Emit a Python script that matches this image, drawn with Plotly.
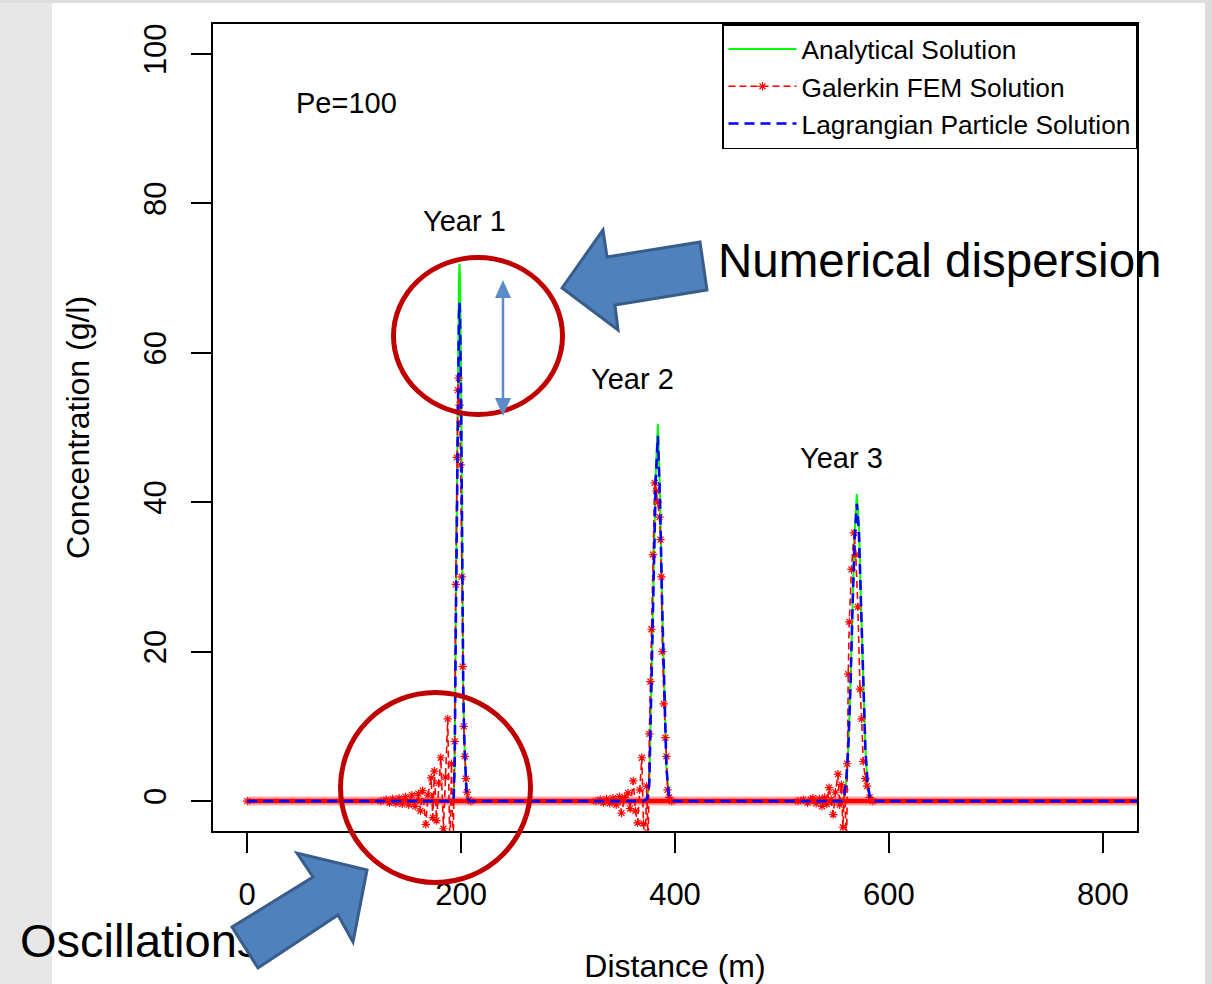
import plotly.graph_objects as go

# ---------------- data ----------------
# Analytical solution (green)
ana_x = [0, 192, 193, 194, 195, 196, 197, 198, 198.5, 199, 200, 201, 202, 203, 204, 205, 206, 208,
         370, 374, 376, 378, 380, 382, 384, 386, 388, 390, 392, 394, 396, 400,
         556, 558, 560, 562, 564, 566, 568, 570, 572, 574, 576, 578, 580, 582, 584, 588, 1000]
ana_y = [0, 0, 0.3, 5, 24, 42, 58, 70, 71.9, 70, 56, 28, 15, 8, 3.5, 1.2, 0.3, 0,
         0, 0.3, 2.5, 18, 30, 44, 50.5, 41, 26, 13, 4.5, 1, 0.1, 0,
         0, 0.5, 2.5, 7, 15, 26, 36, 41.1, 37, 26, 15, 7, 2.5, 0.7, 0.1, 0, 0]

# Galerkin FEM solution (red)
fem_x = [0, 125, 130, 133, 136, 139, 142, 145, 148, 151, 154, 157, 160, 162, 164, 167, 169, 172,
         173.5, 175, 177, 179, 181, 183.5, 185.5, 187.5, 189.5, 191, 192.5,
         194, 195, 196, 197, 197.7, 198.5, 199.5, 200.5, 201.5, 202.5, 203.5, 204.5, 205.5, 207, 209,
         326, 330, 333, 336, 339, 342, 345, 348, 350, 353, 356, 358, 361, 363, 365, 367, 369,
         370.5, 372, 373.5, 375,
         376, 377, 378, 379.4, 381, 382.5, 384, 385.5, 386.5, 387.3, 388.2, 389.5, 391, 392, 393, 394.5, 397,
         515, 520, 524, 527, 529, 532, 535, 537.5, 540, 542, 544, 546, 548, 550, 552.4, 554, 555.5,
         557, 558.5, 560.5,
         561, 562, 563, 565, 567.4, 569, 571, 573, 574.6, 576, 578, 579.6, 582, 585, 1000]
fem_y = [0, 0, 0.2, -0.2, 0.3, -0.3, 0.4, -0.4, 0.6, -0.5, 0.8, -0.7, 1.0, -1.3, 1.4, -3.1, 0.8, 3.1,
         -2.2, 4.0, -2.6, 2.4, 5.8, -3.7, 3.2, 11.0, -6.5, 5, -7,
         8, 29, 46, 55, 56.6, 53, 45, 30, 18, 10, 6, 3, 1.2, 0.2, 0,
         0, 0.2, -0.2, 0.3, -0.3, 0.4, -0.5, 0.6, -1.6, 0.5, 1.1, -1.0, 2.7, -1.3, -2.9, 1.5, 5.8,
         -3.0, -6, 2, -6,
         9, 16, 23, 33, 42.6, 41.5, 40, 38, 35, 30, 20, 13, 8.5, 6, 1.5, 0.5, 0,
         0, 0.2, -0.2, 0.2, 0.4, -0.3, 0.3, -0.7, 0.5, -0.4, 1.8, 0.2, -1.8, 1.2, 3.6, -0.5, 2.2,
         -3.5, 1.5, -6,
         5, 17, 24, 31, 35.9, 33, 26, 15, 11, 5.3, 3, 2, 0.5, 0, 0]

# Lagrangian particle solution (blue)
lag_x = [0, 192, 193, 194, 195, 196, 197, 198, 198.5, 199, 200, 201, 202, 203, 204, 205, 206, 208,
         370, 374, 376, 378, 380, 382, 384, 386, 388, 390, 392, 394, 396, 400,
         556, 558, 560, 562, 564, 566, 568, 570, 572, 574, 576, 578, 580, 582, 584, 588, 1000]
lag_y = [0, 0, 0.3, 5, 23, 40, 55, 65, 66.7, 65, 53, 28, 15, 8, 3.5, 1.2, 0.3, 0,
         0, 0.3, 2.5, 17, 30, 43, 48.9, 40, 26, 13, 4.5, 1, 0.1, 0,
         0, 0.5, 2.5, 7, 15, 26, 35, 39.8, 36, 26, 15, 7, 2.5, 0.7, 0.1, 0, 0]

# zero line of the FEM nodes (dense stars make it a thick band)
base_x = [0, 1000]
base_y = [0, 0]

x_ticks = [0, 200, 400, 600, 800]
y_ticks = [0, 20, 40, 60, 80, 100]

year_labels = ["Year 1", "Year 2", "Year 3"]
year_x = [203, 360.5, 556]
year_y = [77.6, 56.5, 45.9]

FONT = "Liberation Sans, Arial, sans-serif"

# ---------------- layout helpers (pixel -> paper) ----------------
L, R, T, B = 213, 75, 24, 153
W, H = 1212, 984
PW, PH = W - L - R, H - T - B
XR = [-32, 832]
YR = [-4, 104]


def px(x):
    return (x - L) / PW


def py(y):
    return (H - B - y) / PH


def path(pts):
    return "M " + " L ".join(f"{px(a):.5f},{py(b):.5f}" for a, b in pts) + " Z"


fig = go.Figure()

fig.add_trace(go.Scatter(x=ana_x, y=ana_y, mode="lines", name="Analytical Solution",
                         line=dict(color="#00FF00", width=2)))
fig.add_trace(go.Scatter(x=base_x, y=base_y, mode="lines", showlegend=False, hoverinfo="skip",
                         line=dict(color="rgba(255,0,0,0.35)", width=9)))
fig.add_trace(go.Scatter(x=base_x, y=base_y, mode="lines", showlegend=False, hoverinfo="skip",
                         line=dict(color="#FF0000", width=4.5)))
fig.add_trace(go.Scatter(x=fem_x, y=fem_y, mode="lines+markers", name="Galerkin FEM Solution",
                         line=dict(color="#FF0000", width=1.6, dash="7px,4px"),
                         marker=dict(symbol="asterisk-open", size=7, color="#FF0000",
                                     line=dict(color="#FF0000", width=1.2))))
fig.add_trace(go.Scatter(x=lag_x, y=lag_y, mode="lines", name="Lagrangian Particle Solution",
                         line=dict(color="#0000FF", width=2.6, dash="10px,6px")))

annotations = []
for t, xx, yy in zip(year_labels, year_x, year_y):
    annotations.append(dict(x=xx, y=yy, xref="x", yref="y", text=t, showarrow=False,
                            font=dict(size=29, color="black", family=FONT)))
annotations.append(dict(x=92.7, y=93.4, xref="x", yref="y", text="Pe=100", showarrow=False,
                        font=dict(size=29, color="black", family=FONT)))
annotations.append(dict(x=px(716), y=py(260), xref="paper", yref="paper", xanchor="left",
                        yanchor="middle", text="Numerical dispersion", showarrow=False,
                        font=dict(size=47.5, color="black", family=FONT)))

shapes = [
    # slide background strips
    dict(type="rect", xref="paper", yref="paper", x0=px(0), x1=px(52), y0=py(984), y1=py(0),
         fillcolor="#e7e7e7", line=dict(width=0), layer="below"),
    dict(type="rect", xref="paper", yref="paper", x0=px(1205), x1=px(1212), y0=py(984), y1=py(0),
         fillcolor="#dcdcdc", line=dict(width=0), layer="below"),
    dict(type="rect", xref="paper", yref="paper", x0=px(0), x1=px(1212), y0=py(3), y1=py(0),
         fillcolor="#dddddd", line=dict(width=0), layer="below"),
    # slide text that sits underneath the block arrow (shape label, so the arrow can cover it)
    dict(type="rect", xref="paper", yref="paper", x0=px(17), x1=px(330), y0=py(963), y1=py(909),
         line=dict(width=0), fillcolor="rgba(0,0,0,0)", layer="above",
         label=dict(text="Oscillations", textposition="middle left", padding=0,
                    font=dict(size=47, color="black", family=FONT))),
    # red circles
    dict(type="circle", xref="paper", yref="paper", x0=px(393.5), x1=px(562.5), y0=py(414.5), y1=py(257.5),
         line=dict(color="#C00000", width=5), layer="above"),
    dict(type="circle", xref="paper", yref="paper", x0=px(340.5), x1=px(530.5), y0=py(882.5), y1=py(692.5),
         line=dict(color="#C00000", width=5), layer="above"),
    # double-headed arrow
    dict(type="line", xref="paper", yref="paper", x0=px(503), x1=px(503), y0=py(292), y1=py(404),
         line=dict(color="#5B8BC8", width=2.5), layer="above"),
    dict(type="path", xref="paper", yref="paper", path=path([(503, 280), (495, 298), (511, 298)]),
         fillcolor="#5B8BC8", line=dict(width=0), layer="above"),
    dict(type="path", xref="paper", yref="paper", path=path([(503, 416), (495, 398), (511, 398)]),
         fillcolor="#5B8BC8", line=dict(width=0), layer="above"),
    # block arrows
    dict(type="path", xref="paper", yref="paper",
         path=path([(562, 288), (603, 230), (607, 257), (700, 242), (707, 290), (615, 305), (618, 330)]),
         fillcolor="#4F81BD", line=dict(color="#385D8A", width=3), layer="above"),
    dict(type="path", xref="paper", yref="paper",
         path=path([(367, 870), (297, 853), (313, 877), (232, 927), (258, 968), (338, 915), (353, 942)]),
         fillcolor="#4F81BD", line=dict(color="#385D8A", width=3), layer="above"),
]

axis_common = dict(showline=True, linecolor="black", linewidth=2, mirror=True,
                   ticks="outside", ticklen=20, tickwidth=1.5, tickcolor="black",
                   showgrid=False, zeroline=False, automargin=False,
                   tickfont=dict(size=31, color="black", family=FONT))

fig.update_layout(
    width=W, height=H,
    margin=dict(l=L, r=R, t=T, b=B, pad=0, autoexpand=False),
    paper_bgcolor="white", plot_bgcolor="white",
    font=dict(family=FONT, color="black"),
    xaxis=dict(range=XR, tickvals=x_ticks, ticklabelstandoff=15,
               title=dict(text="Distance (m)", font=dict(size=32, color="black", family=FONT), standoff=46),
               **axis_common),
    yaxis=dict(range=YR, tickvals=y_ticks, tickangle=-90, ticklabelstandoff=13,
               title=dict(text="Concentration (g/l)", font=dict(size=32, color="black", family=FONT), standoff=38),
               **axis_common),
    legend=dict(x=1, y=1, xanchor="right", yanchor="top", bgcolor="white",
                bordercolor="black", borderwidth=1.5, itemwidth=68,
                font=dict(size=26.3, color="black", family=FONT)),
    annotations=annotations,
    shapes=shapes,
    showlegend=True,
)

fig.write_html("out.html", config={"displayModeBar": False},
               post_script="document.body.style.margin='0';document.body.style.overflow='hidden';")
